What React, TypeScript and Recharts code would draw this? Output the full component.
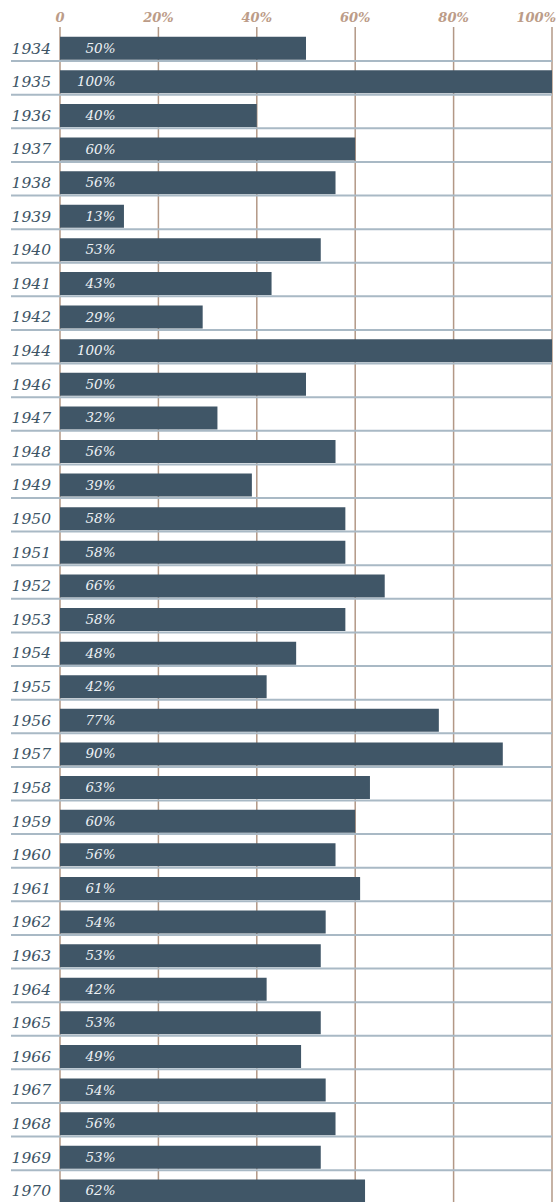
import React from 'react';
import { BarChart, Bar, XAxis, YAxis, CartesianGrid, LabelList } from 'recharts';

const years = ['1934','1935','1936','1937','1938','1939','1940','1941','1942','1944','1946','1947','1948','1949','1950','1951','1952','1953','1954','1955','1956','1957','1958','1959','1960','1961','1962','1963','1964','1965','1966','1967','1968','1969','1970'];
const values = [50,100,40,60,56,13,53,43,29,100,50,32,56,39,58,58,66,58,48,42,77,90,63,60,56,61,54,53,42,53,49,54,56,53,62];
const xTicks = [0, 20, 40, 60, 80, 100];

const data = years.map((year, i) => ({ year, value: values[i] }));

const FONT = "'DejaVu Serif', serif";

const XTick = (props: any) => {
  const { x, payload } = props;
  const v = payload.value;
  const label = v === 0 ? '0' : `${v}%`;
  const isLast = v === 100;
  return (
    <text
      x={isLast ? x + 4 : x}
      y={21.5}
      textAnchor={isLast ? 'end' : 'middle'}
      style={{ fontFamily: FONT, fontStyle: 'italic', fontWeight: 'bold', fontSize: 13 }}
      fill="#bc9c88"
    >
      {label}
    </text>
  );
};

const YTick = (props: any) => {
  const { y, payload } = props;
  return (
    <g>
      <line x1={11} x2={552} y1={y + 12.6} y2={y + 12.6} stroke="#a9b9c5" strokeWidth={2} />
      <text
        x={51}
        y={y + 5}
        textAnchor="end"
        style={{ fontFamily: FONT, fontStyle: 'italic', fontSize: 15.5 }}
        fill="#3e5566"
      >
        {payload.value}
      </text>
    </g>
  );
};

const ValueLabel = (props: any) => {
  const { x, y, height, value } = props;
  return (
    <text
      x={x + 55.5}
      y={y + height / 2 + 4.5}
      textAnchor="end"
      style={{ fontFamily: FONT, fontStyle: 'italic', fontSize: 13.5 }}
      fill="#eef2f5"
    >
      {`${value}%`}
    </text>
  );
};

export default function App() {
  return (
    <div style={{ width: 556, height: 1202, overflow: 'hidden', position: 'relative' }}>
      <style>{'body{margin:0}'}</style>
      <BarChart
        width={556}
        height={1208}
        data={data}
        layout="vertical"
        margin={{ top: 0, right: 4, bottom: 0, left: 0 }}
      >
        <CartesianGrid horizontal={false} vertical={true} stroke="#b39886" strokeWidth={1.5} />
        <XAxis
          type="number"
          orientation="top"
          domain={[0, 100]}
          ticks={xTicks}
          height={27}
          axisLine={false}
          tickLine={false}
          tick={<XTick />}
          interval={0}
        />
        <YAxis
          type="category"
          dataKey="year"
          width={60}
          axisLine={false}
          tickLine={false}
          interval={0}
          padding={{ top: 4.7, bottom: 0 }}
          tick={<YTick />}
        />
        <Bar dataKey="value" fill="#405667" barSize={23} isAnimationActive={false}>
          <LabelList dataKey="value" content={<ValueLabel />} />
        </Bar>
      </BarChart>
    </div>
  );
}
